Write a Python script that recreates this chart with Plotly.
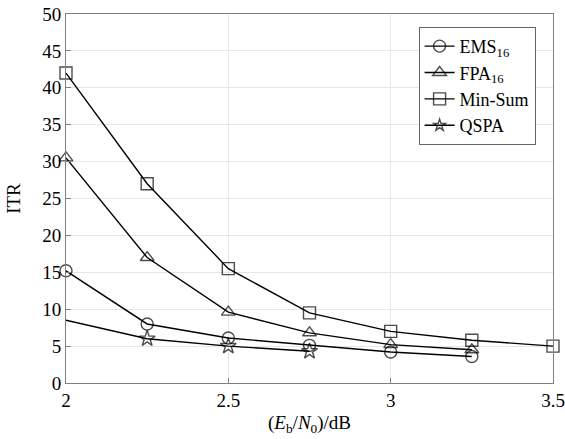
import plotly.graph_objects as go

x_ems = [2, 2.25, 2.5, 2.75, 3, 3.25]
ems = [15.2, 8.0, 6.1, 5.1, 4.2, 3.6]
x_fpa = [2, 2.25, 2.5, 2.75, 3, 3.25]
fpa = [30.5, 17.0, 9.6, 6.8, 5.2, 4.5]
x_ms = [2, 2.25, 2.5, 2.75, 3, 3.25, 3.5]
minsum = [42.0, 27.0, 15.5, 9.5, 7.0, 5.8, 5.0]
x_qspa = [2, 2.25, 2.5, 2.75]
qspa = [8.5, 6.0, 5.0, 4.3]

names = ["EMS<sub>16</sub>", "FPA<sub>16</sub>", "Min-Sum", "QSPA"]
xs_list = [x_ems, x_fpa, x_ms, x_qspa]
ys_list = [ems, fpa, minsum, qspa]
symbols = ["circle-open", "triangle-up-open", "square-open", "star-open"]

fig = go.Figure()
for name, xs, ys, sym in zip(names, xs_list, ys_list, symbols):
    sizes = [12] * len(xs)
    if name == "QSPA":
        sizes[0] = 0
    fig.add_trace(go.Scatter(
        x=xs, y=ys, name=name, mode="lines+markers", cliponaxis=False,
        line=dict(color="black", width=1.4),
        marker=dict(symbol=sym, size=sizes, color="black",
                    line=dict(color="black", width=1.4)),
    ))

font = "Liberation Serif, Times New Roman, serif"
fig.update_layout(
    width=565, height=439,
    margin=dict(l=66, r=12, t=14, b=56),
    paper_bgcolor="white", plot_bgcolor="white",
    font=dict(family=font, size=19, color="black"),
    showlegend=True,
    legend=dict(x=0.724, y=0.965, xanchor="left", yanchor="top",
                bgcolor="white", bordercolor="#666666", borderwidth=1,
                font=dict(family=font, size=18, color="black"),
                tracegroupgap=0),
    xaxis=dict(range=[2, 3.5], tickvals=[2, 2.5, 3, 3.5],
               ticktext=["2", "2.5", "3", "3.5"], automargin=False,
               showgrid=True, gridcolor="#e6e6e6", gridwidth=1,
               showline=True, linecolor="#808080", linewidth=1, mirror=True,
               ticks="inside", ticklen=5, tickcolor="#808080",
               zeroline=False,
               title=dict(text="(<i>E</i><sub>b</sub>/<i>N</i><sub>0</sub>)/dB",
                          font=dict(family=font, size=19), standoff=5)),
    yaxis=dict(range=[0, 50], tickvals=list(range(0, 51, 5)), automargin=False,
               showgrid=True, gridcolor="#e6e6e6", gridwidth=1,
               showline=True, linecolor="#808080", linewidth=1, mirror=True,
               ticks="inside", ticklen=5, tickcolor="#808080",
               zeroline=False,
               title=dict(text="ITR", font=dict(family=font, size=19), standoff=16)),
)

fig.write_html("out.html", config={"displayModeBar": False},
               post_script="document.body.style.margin='0';")
